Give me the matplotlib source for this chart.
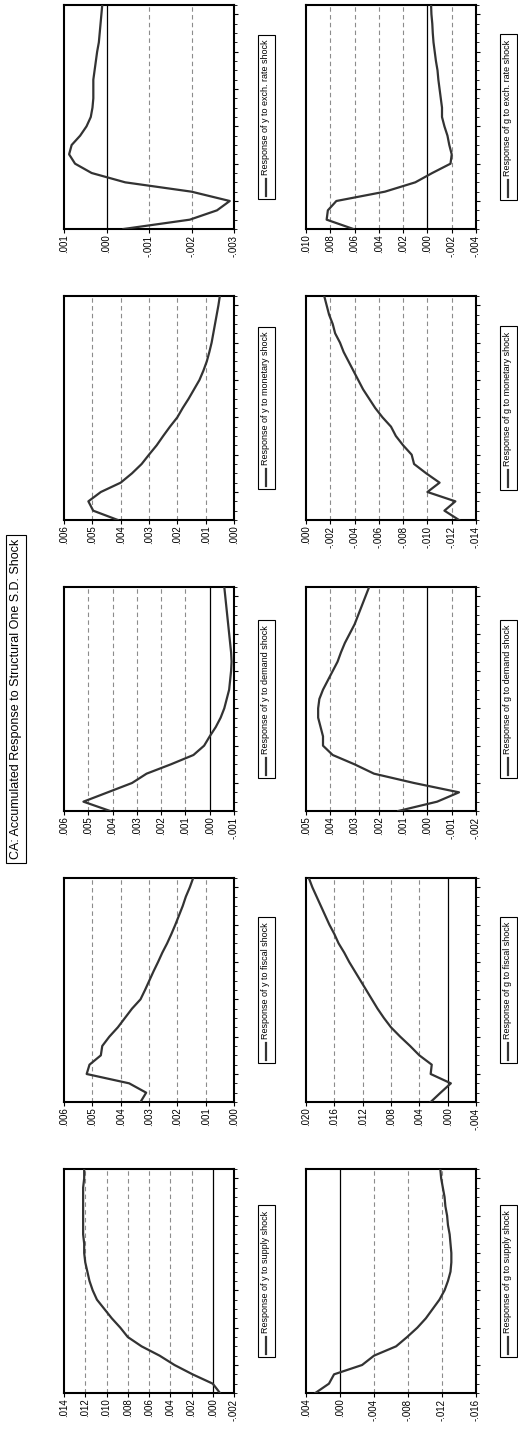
import matplotlib
matplotlib.use("Agg")
import matplotlib.pyplot as plt
from matplotlib.lines import Line2D
from matplotlib.patches import Rectangle
from matplotlib.ticker import MultipleLocator

plt.rcParams['font.family'] = ['Liberation Sans', 'DejaVu Sans']

# accumulated impulse responses, periods 1..25
periods = list(range(1, 26))
shocks = ["supply", "fiscal", "demand", "monetary", "exch. rate"]

y_supply = [-0.00068, 0.0000, 0.0019, 0.0036, 0.0050, 0.0067, 0.0080, 0.0087, 0.0095, 0.0102,
            0.0109, 0.0113, 0.0116, 0.0118, 0.0120, 0.0121, 0.0121, 0.0122, 0.0122, 0.0122,
            0.0122, 0.0122, 0.0122, 0.0121, 0.0121]
g_supply = [0.0029, 0.0013, 0.0007, -0.0026, -0.0040, -0.0066, -0.0079, -0.0091, -0.0101, -0.0109,
            -0.0117, -0.0123, -0.0127, -0.0130, -0.0131, -0.0131, -0.0130, -0.0129, -0.0127, -0.0126,
            -0.0124, -0.0123, -0.0121, -0.0119, -0.0118]
y_fiscal = [0.0033, 0.0031, 0.0037, 0.0052, 0.0051, 0.0047, 0.00465, 0.0044, 0.0041, 0.00385,
            0.0036, 0.0033, 0.00314, 0.00299, 0.00284, 0.00268, 0.00253, 0.00236, 0.00221, 0.00207,
            0.00194, 0.00181, 0.0017, 0.00156, 0.00144]
g_fiscal = [0.0024, 0.0010, -0.00045, 0.0024, 0.00225, 0.0040, 0.0053, 0.0067, 0.0080, 0.0090,
            0.0099, 0.0107, 0.0115, 0.0123, 0.0131, 0.0139, 0.0146, 0.0154, 0.0160, 0.0167,
            0.0173, 0.0179, 0.0185, 0.0191, 0.0196]
y_demand = [0.0041, 0.0052, 0.0042, 0.0032, 0.0026, 0.0016, 0.00067, 0.00023, 0.0, -0.00025,
            -0.00045, -0.0006, -0.0007, -0.0008, -0.00084, -0.00088, -0.0009, -0.00088, -0.00084, -0.0008,
            -0.00076, -0.00072, -0.00068, -0.00064, -0.0006]
g_demand = [0.0012, -0.0004, -0.0013, 0.00055, 0.0022, 0.0030, 0.0039, 0.0043, 0.0043, 0.0044,
            0.0045, 0.0045, 0.00445, 0.0043, 0.0041, 0.0039, 0.0037, 0.00356, 0.0034, 0.0032,
            0.0030, 0.00285, 0.0027, 0.00255, 0.0024]
y_monetary = [0.0041, 0.00497, 0.00514, 0.0047, 0.0040, 0.0036, 0.00326, 0.0030, 0.00273, 0.0025,
              0.00226, 0.0020, 0.00181, 0.0016, 0.00141, 0.00122, 0.00108, 0.00096, 0.00087, 0.00079,
              0.00073, 0.00067, 0.00061, 0.00055, 0.0005]
g_monetary = [-0.0126, -0.0114, -0.0123, -0.0100, -0.0110, -0.0099, -0.0089, -0.0087, -0.0080, -0.0074,
              -0.0070, -0.0063, -0.0057, -0.0052, -0.0047, -0.0043, -0.0039, -0.0035, -0.0031, -0.0028,
              -0.0024, -0.0022, -0.0019, -0.0017, -0.0015]
y_exch = [-0.0004, -0.00196, -0.0026, -0.0029, -0.0020, -0.00044, 0.00035, 0.00074, 0.00088, 0.00082,
          0.00062, 0.00047, 0.00037, 0.00033, 0.00031, 0.00031, 0.00031, 0.00028, 0.00025, 0.00022,
          0.00018, 0.00016, 0.00014, 0.00012, 0.0001]
g_exch = [0.0061, 0.0083, 0.0082, 0.0075, 0.0035, 0.0010, -0.0004, -0.0019, -0.0020, -0.0018,
          -0.00165, -0.0014, -0.0012, -0.0012, -0.0011, -0.0010, -0.0009, -0.00083, -0.0007, -0.0006,
          -0.0005, -0.00044, -0.0004, -0.00033, -0.0003]

y_series = [y_supply, y_fiscal, y_demand, y_monetary, y_exch]
g_series = [g_supply, g_fiscal, g_demand, g_monetary, g_exch]

# value axis ranges (min, max, step)
y_scales = [(-0.002, 0.014, 0.002), (0.0, 0.006, 0.001), (-0.001, 0.006, 0.001),
            (0.0, 0.006, 0.001), (-0.003, 0.001, 0.001)]
g_scales = [(-0.016, 0.004, 0.004), (-0.004, 0.020, 0.004), (-0.002, 0.005, 0.001),
            (-0.014, 0.0, 0.002), (-0.004, 0.010, 0.002)]

W, H = 518, 1430
fig = plt.figure(figsize=(W / 100, H / 100), dpi=100)


def fmt(v):
    s = f"{v:.3f}"
    return s.replace("0.", ".", 1) if s.startswith(("0", "-0")) else s


def panel(ax, data, scale):
    lo, hi, step = scale
    n = int(round((hi - lo) / step))
    ticks = [round(lo + k * step, 4) for k in range(n + 1)]
    for t in ticks[1:-1]:
        if abs(t) < 1e-9:
            ax.axvline(0, color='black', lw=0.9, zorder=1)
        else:
            ax.axvline(t, color='#8c8c8c', lw=0.8, ls=(0, (4, 3)), zorder=1)
    ax.plot(data, periods, color='#333333', lw=1.6, zorder=3)
    ax.set_xlim(hi, lo)
    ax.set_ylim(1, 25)
    ax.set_xticks(ticks)
    ax.set_xticklabels([fmt(t) for t in ticks], rotation=90, fontsize=7)
    ax.tick_params(axis='x', direction='out', length=3, width=0.8, pad=1)
    ax.yaxis.tick_right()
    ax.yaxis.set_major_locator(MultipleLocator(4))
    ax.yaxis.set_minor_locator(MultipleLocator(1))
    ax.tick_params(axis='y', which='major', direction='out', length=3, width=0.8, labelright=False)
    ax.tick_params(axis='y', which='minor', direction='out', length=1.8, width=0.6)
    for sp in ax.spines.values():
        sp.set_linewidth(1.5)


leg_texts = []
for i, shock in enumerate(shocks):
    top = 1169 - i * 291
    bottom = 1 - (top + 224) / H
    for col, (series, scales, var, left, lx) in enumerate([
            (y_series, y_scales, "y", 64, 266),
            (g_series, g_scales, "g", 306, 508)]):
        ax = fig.add_axes([left / W, bottom, 170 / W, 224 / H])
        panel(ax, series[i], scales[i])
        yc = 1 - (top + 112) / H + 9.5 / H
        t = fig.text(lx / W, yc, f"Response of {var} to {shock} shock", rotation=90,
                     ha='center', va='center', fontsize=6.5)
        leg_texts.append(t)

fig.text(16 / W, 1 - 699 / H, "CA: Accumulated Response to Structural One S.D. Shock",
         rotation=90, ha='center', va='center', fontsize=9,
         bbox=dict(boxstyle='square,pad=0.3', fc='white', ec='black', lw=0.8))

# legend boxes with a line sample
fig.canvas.draw()
r = fig.canvas.get_renderer()
for t in leg_texts:
    bb = t.get_window_extent(r)
    x0, x1 = bb.x0 - 4, bb.x1 + 4
    y0, y1 = bb.y0 - 24, bb.y1 + 5
    fig.add_artist(Rectangle((x0 / W, y0 / H), (x1 - x0) / W, (y1 - y0) / H,
                             transform=fig.transFigure, fill=False, ec='black', lw=0.8))
    xc = (bb.x0 + bb.x1) / 2
    fig.add_artist(Line2D([xc / W, xc / W], [(bb.y0 - 21) / H, (bb.y0 - 4) / H],
                          transform=fig.transFigure, color='#333333', lw=1.6))

fig.savefig("out.png", dpi=100)
